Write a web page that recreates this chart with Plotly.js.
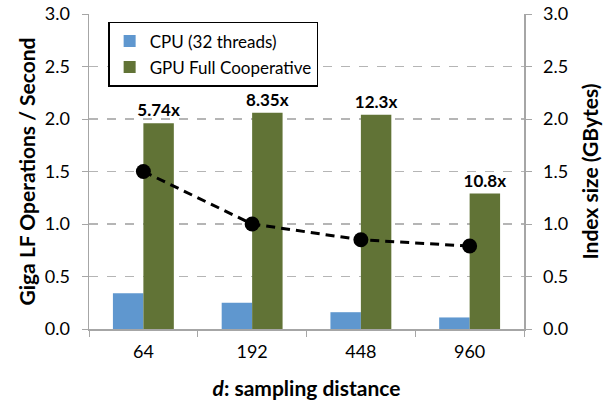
<!DOCTYPE html>
<html>
<head>
<meta charset="utf-8">
<script src="https://cdn.plot.ly/plotly-3.0.1.min.js"></script>
<style>html,body{margin:0;padding:0;background:#fff;}#chart{width:603px;height:404px;}</style>
</head>
<body>
<div id="chart"></div>
<script>
const categories = ["64", "192", "448", "960"];
const cpuValues = [0.34, 0.25, 0.16, 0.11];
const gpuValues = [1.96, 2.06, 2.04, 1.29];
const speedupLabels = ["5.74x", "8.35x", "12.3x", "10.8x"];
const indexSize = [1.50, 1.00, 0.85, 0.79];
const yTicks = [0, 0.5, 1.0, 1.5, 2.0, 2.5, 3.0];
const yTickText = ["0.0", "0.5", "1.0", "1.5", "2.0", "2.5", "3.0"];

const FONT = "Lato, 'Open Sans', sans-serif";

const traces = [
  {
    type: "bar", name: "CPU (32 threads)", x: categories, y: cpuValues,
    marker: {color: "#5f97cf"}, yaxis: "y", legendgroup: "cpu"
  },
  {
    type: "bar", name: "GPU Full Cooperative", x: categories, y: gpuValues,
    marker: {color: "#617336"}, yaxis: "y", legendgroup: "gpu",
    text: speedupLabels, textposition: "outside", cliponaxis: false, constraintext: "none",
    textfont: {family: FONT, size: 17, color: "#000", weight: "bold"}
  },
  {
    type: "scatter", mode: "lines+markers", name: "Index size", x: categories, y: indexSize,
    yaxis: "y2", showlegend: false,
    line: {color: "#000", width: 3, dash: "9px,6px"},
    marker: {color: "#000", size: 15}
  }
];

const axisCommon = {
  range: [0, 3], tickvals: yTicks, ticktext: yTickText,
  showline: true, linecolor: "#a6a6a6", linewidth: 1.5,
  ticks: "outside", ticklen: 6, tickcolor: "#a6a6a6",
  tickfont: {family: FONT, size: 18, color: "#000"},
  ticklabelstandoff: 8, zeroline: false, fixedrange: true
};

const layout = {
  width: 603, height: 404,
  margin: {l: 89, r: 79, t: 14, b: 75},
  paper_bgcolor: "#fff", plot_bgcolor: "#fff",
  font: {family: FONT, color: "#000"},
  bargap: 0.44, bargroupgap: 0,
  barmode: "group",
  showlegend: true,
  legend: {
    x: 0.044, y: 0.975, xanchor: "left", yanchor: "top",
    bgcolor: "#fff", bordercolor: "#000", borderwidth: 1.5,
    font: {family: FONT, size: 17, color: "#000"},
    tracegroupgap: 1, itemwidth: 30
  },
  xaxis: {
    type: "category", showline: true, linecolor: "#a6a6a6", linewidth: 1.5,
    ticks: "outside", tickson: "boundaries", ticklen: 6, tickcolor: "#a6a6a6",
    tickfont: {family: FONT, size: 18, color: "#000"},
    ticklabelstandoff: 6, showgrid: false, fixedrange: true,
    title: {text: "<b><i>d</i>: sampling distance</b>", font: {family: FONT, size: 21, color: "#000"}, standoff: 20}
  },
  yaxis: Object.assign({}, axisCommon, {
    showgrid: true, gridcolor: "#b5b5b5", griddash: "dash", gridwidth: 1.2,
    title: {text: "<b>Giga LF Operations / Second</b>", font: {family: FONT, size: 21, color: "#000"}, standoff: 3}
  }),
  yaxis2: Object.assign({}, axisCommon, {
    overlaying: "y", side: "right", showgrid: false,
    title: {text: "<b>Index size (GBytes)</b>", font: {family: FONT, size: 21, color: "#000"}, standoff: 16}
  })
};

Plotly.newPlot("chart", traces, layout, {displayModeBar: false, staticPlot: true});
</script>
</body>
</html>
